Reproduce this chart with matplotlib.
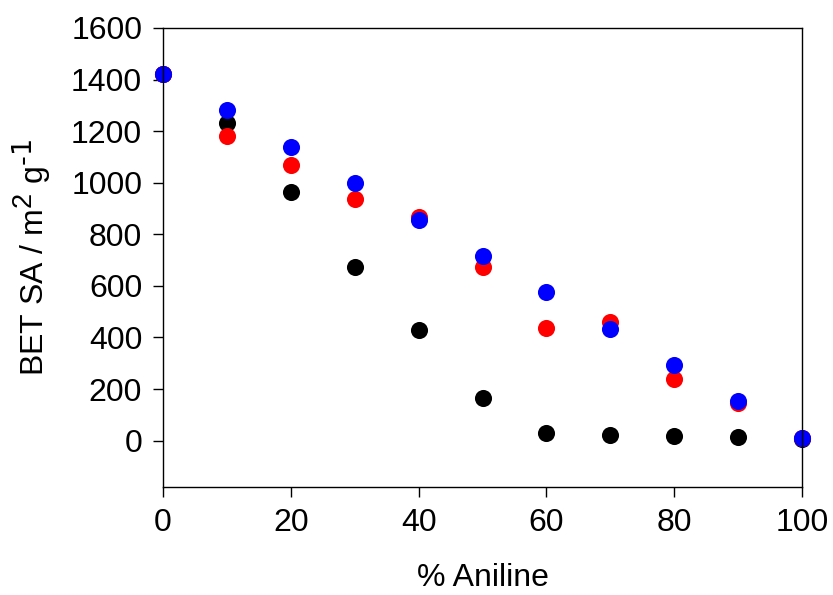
import matplotlib
matplotlib.use("Agg")
import matplotlib.pyplot as plt
try:
    import matplotlib._mathtext as _mt
    _mt.SHRINK_FACTOR = 0.85
except Exception:
    pass

plt.rcParams['font.family'] = ['Liberation Sans', 'DejaVu Sans']
plt.rcParams['axes.unicode_minus'] = False
plt.rcParams['mathtext.default'] = 'regular'

aniline = [0, 10, 20, 30, 40, 50, 60, 70, 80, 90, 100]
black_sa = [1420, 1233, 962, 672, 428, 165, 28, 22, 17, 12, 8]
red_sa = [1420, 1183, 1070, 938, 868, 672, 438, 458, 240, 145, 9]
blue_sa = [1420, 1280, 1140, 1000, 857, 715, 575, 432, 292, 152, 9]

fig = plt.figure(figsize=(8.33, 5.95), dpi=100)
ax = fig.add_axes([0.1957, 0.1815, 0.7671, 0.7715])

for ys, c in [(black_sa, 'black'), (red_sa, 'red'), (blue_sa, 'blue')]:
    ax.plot(aniline, ys, 'o', color=c, markersize=12.3, markeredgewidth=0, clip_on=False)

ax.set_xlim(0, 100)
ax.set_ylim(-180, 1600)
ax.set_xticks(range(0, 101, 20))
ax.set_yticks(range(0, 1601, 200))
ax.tick_params(direction='out', length=7, width=1, labelsize=23, pad=8)
for s in ax.spines.values():
    s.set_linewidth(1)
ax.set_xlabel('% Aniline', fontsize=23, labelpad=18)
ax.set_ylabel('BET SA / m$^{2}$ g$^{\\text{-1}}$', fontsize=23, labelpad=12)

fig.savefig('out.png', dpi=100)
